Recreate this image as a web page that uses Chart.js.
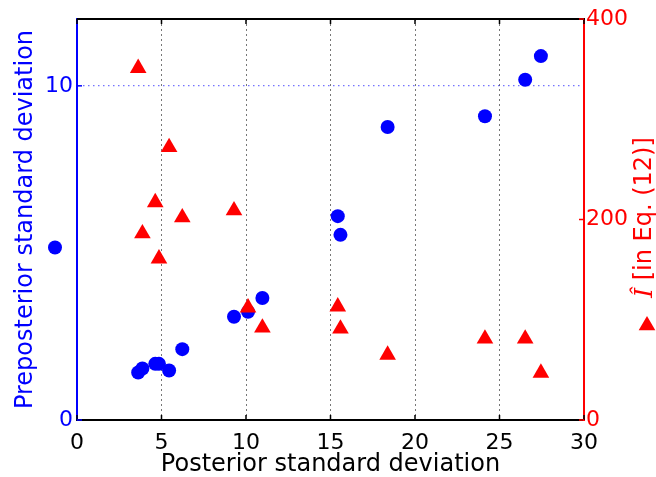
<!DOCTYPE html>
<html lang="en">
<head>
<meta charset="UTF-8">
<title>Preposterior vs posterior standard deviation</title>
<script src="https://cdn.jsdelivr.net/npm/chart.js"></script>
<style>
  html, body { margin: 0; padding: 0; background: #fff; }
  canvas { display: block; }
</style>
</head>
<body>
<canvas id="chart" width="656" height="477"></canvas>
<script>
// one entry per case
const posteriorSd    = [3.62, 3.87, 4.63, 4.85, 5.45, 6.23, 9.29, 10.12, 10.97, 15.43, 15.59, 18.38, 24.14, 26.52, 27.45];
const preposteriorSd = [1.42, 1.54, 1.68, 1.68, 1.48, 2.12, 3.09, 3.24, 3.65, 6.10, 5.54, 8.77, 9.09, 10.18, 10.89];
const iHat           = [351, 186, 217, 161, 272, 202, 209, 112, 92, 113, 91, 65, 81, 81, 47];

const xTicks = [0, 5, 10, 15, 20, 25, 30];
const leftTicks = [0, 10];
const rightTicks = [0, 200, 400];

const BLUE = '#0000ff';
const RED = '#ff0000';
const FONT = '"DejaVu Sans", sans-serif';

function setTicks(list) {
    return scale => { scale.ticks = list.map(v => ({ value: v })); };
}

// frame, inward tick marks, right label and the two legend markers
const extras = {
    id: 'extras',
    afterDraw(chart) {
        const { ctx, chartArea: a, scales } = chart;
        const tl = 5;
        ctx.save();

        ctx.strokeStyle = '#000';
        ctx.lineWidth = 2;
        ctx.beginPath();
        ctx.moveTo(a.left, a.top);
        ctx.lineTo(a.right + 1, a.top);
        ctx.stroke();

        ctx.lineWidth = 1.5;
        xTicks.forEach(v => {
            const px = scales.x.getPixelForValue(v);
            ctx.beginPath();
            ctx.moveTo(px, a.bottom); ctx.lineTo(px, a.bottom - tl);
            ctx.moveTo(px, a.top); ctx.lineTo(px, a.top + tl);
            ctx.stroke();
        });
        ctx.strokeStyle = BLUE;
        leftTicks.forEach(v => {
            const py = scales.y.getPixelForValue(v);
            ctx.beginPath(); ctx.moveTo(a.left, py); ctx.lineTo(a.left + tl, py); ctx.stroke();
        });
        ctx.strokeStyle = RED;
        rightTicks.forEach(v => {
            const py = scales.y2.getPixelForValue(v);
            ctx.beginPath(); ctx.moveTo(a.right, py); ctx.lineTo(a.right - tl, py); ctx.stroke();
        });

        // right axis label, mixed fonts
        const cy = (a.top + a.bottom) / 2;
        const rest = ' [in Eq. (12)]';
        ctx.save();
        ctx.translate(a.right + 61, cy - 2);
        ctx.rotate(-Math.PI / 2);
        ctx.fillStyle = RED;
        ctx.textBaseline = 'middle';
        ctx.textAlign = 'left';
        ctx.font = 'italic 25px "DejaVu Serif", serif';
        const w1 = ctx.measureText('Î').width;
        ctx.font = '24px ' + FONT;
        const w2 = ctx.measureText(rest).width;
        const x0 = -(w1 + w2) / 2;
        ctx.font = 'italic 25px "DejaVu Serif", serif';
        ctx.fillText('Î', x0, 0);
        ctx.font = '24px ' + FONT;
        ctx.fillText(rest, x0 + w1, 0);
        ctx.restore();

        // legend markers next to the axis labels
        ctx.fillStyle = BLUE;
        ctx.beginPath();
        ctx.arc(a.left - 22, cy + 28, 7, 0, Math.PI * 2);
        ctx.fill();

        const tx = a.right + 63, ty = cy + 106, r = 9.6;
        ctx.fillStyle = RED;
        ctx.beginPath();
        ctx.moveTo(tx, ty - r);
        ctx.lineTo(tx + r * Math.sin(2 * Math.PI / 3), ty + r / 2);
        ctx.lineTo(tx - r * Math.sin(2 * Math.PI / 3), ty + r / 2);
        ctx.closePath();
        ctx.fill();

        ctx.restore();
    }
};

new Chart(document.getElementById('chart'), {
    type: 'scatter',
    data: {
        datasets: [
            {
                label: 'I hat',
                data: posteriorSd.map((x, i) => ({ x: x, y: iHat[i] })),
                yAxisID: 'y2',
                pointStyle: 'triangle',
                pointRadius: 9.6,
                pointBorderWidth: 0,
                backgroundColor: RED,
                borderColor: RED
            },
            {
                label: 'Preposterior standard deviation',
                data: posteriorSd.map((x, i) => ({ x: x, y: preposteriorSd[i] })),
                yAxisID: 'y',
                pointStyle: 'circle',
                pointRadius: 7,
                pointBorderWidth: 0,
                backgroundColor: BLUE,
                borderColor: BLUE
            }
        ]
    },
    options: {
        responsive: false,
        animation: false,
        layout: { padding: { top: 19 } },
        plugins: {
            legend: { display: false },
            tooltip: { enabled: false }
        },
        scales: {
            x: {
                type: 'linear',
                min: 0,
                max: 30,
                afterBuildTicks: setTicks(xTicks),
                afterFit: s => { s.height = 57; },
                ticks: {
                    color: '#000',
                    font: { family: FONT, size: 22 },
                    padding: 10,
                    autoSkip: false,
                    maxRotation: 0
                },
                grid: {
                    drawTicks: false,
                    color: ctx => (ctx.tick && (ctx.tick.value === 0 || ctx.tick.value === 30)) ? 'rgba(0,0,0,0)' : '#777',
                    lineWidth: 1
                },
                border: { color: '#000', width: 2, dash: [2, 3] },
                title: {
                    display: true,
                    text: 'Posterior standard deviation',
                    color: '#000',
                    font: { family: FONT, size: 24, lineHeight: 1 },
                    padding: { top: 0, bottom: 0.5 }
                }
            },
            y: {
                position: 'left',
                min: 0,
                max: 12,
                afterBuildTicks: setTicks(leftTicks),
                afterFit: s => { s.width = 77; },
                ticks: {
                    color: BLUE,
                    font: { family: FONT, size: 22 },
                    padding: 4
                },
                grid: {
                    drawTicks: false,
                    color: ctx => (ctx.tick && ctx.tick.value === 10) ? 'rgba(0,0,255,0.55)' : 'rgba(0,0,0,0)',
                    lineWidth: 1.2
                },
                border: { color: BLUE, width: 2, dash: [1.5, 3.5] },
                title: {
                    display: true,
                    text: 'Preposterior standard deviation',
                    color: BLUE,
                    font: { family: FONT, size: 24, lineHeight: 1 },
                    padding: { top: 14, bottom: 0 }
                }
            },
            y2: {
                position: 'right',
                min: 0,
                max: 400,
                afterBuildTicks: setTicks(rightTicks),
                afterFit: s => { s.width = 72; },
                ticks: {
                    color: RED,
                    font: { family: FONT, size: 22 },
                    padding: 2
                },
                grid: { display: false, drawTicks: false },
                border: { color: RED, width: 2 }
            }
        }
    },
    plugins: [extras]
});
</script>
</body>
</html>
